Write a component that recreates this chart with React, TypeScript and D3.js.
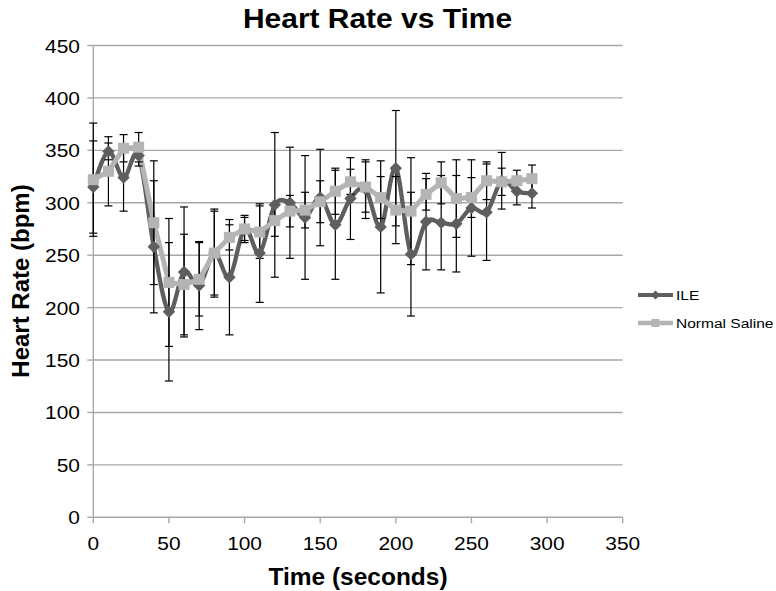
import React from 'react';
import * as d3 from 'd3';

const times = [0, 10, 20, 30, 40, 50, 60, 70, 80, 90, 100, 110, 120, 130, 140, 150, 160, 170, 180, 190, 200, 210, 220, 230, 240, 250, 260, 270, 280, 290];
const ileMean = [315, 349, 324, 345, 258, 196, 234, 221, 252, 229, 275, 252, 298, 300, 286, 305, 279, 304, 313, 277, 333, 251, 282, 281, 280, 295, 291, 321, 311, 309];
const ileErr = [44, 8, 32, 10, 63, 66, 62, 42, 42, 55, 11, 47, 69, 53, 59, 46, 52, 39, 28, 63, 55, 59, 46, 45, 46, 46, 46, 27, 13, 14];
const salineMean = [322, 330, 352, 353, 281, 224, 222, 227, 252, 267, 275, 272, 283, 292, 293, 301, 311, 320, 315, 305, 293, 292, 308, 319, 304, 305, 321, 320, 321, 323];
const salineErr = [54, 33, 13, 14, 59, 61, 48, 35, 40, 12, 13, 25, 15, 15, 17, 20, 22, 12, 24, 20, 32, 51, 15, 20, 37, 19, 18, 13, 10, 13];
const xTicks = [0, 50, 100, 150, 200, 250, 300, 350];
const yTicks = [0, 50, 100, 150, 200, 250, 300, 350, 400, 450];

const FONT = 'Liberation Sans, Arial, Helvetica, sans-serif';
const ILE_COLOR = '#5e5e5e';
const SAL_COLOR = '#b4b4b4';
const GRID = '#a8a8a8';

export default function App() {
  const x = d3.scaleLinear().domain([0, 350]).range([93.3, 622.7]);
  const y = d3.scaleLinear().domain([0, 450]).range([517.3, 45.5]);

  const ileLine = d3
    .line<number>()
    .x((_, i) => x(times[i]))
    .y((d) => y(d))
    .curve(d3.curveCardinal.tension(0));
  const salLine = d3
    .line<number>()
    .x((_, i) => x(times[i]))
    .y((d) => y(d))
    .curve(d3.curveLinear);

  const errBars = (means: number[], errs: number[], key: string) =>
    means.map((m, i) => {
      const cx = x(times[i]);
      const y1 = y(m + errs[i]);
      const y2 = y(m - errs[i]);
      return (
        <g key={key + i} stroke="#000" strokeWidth={1.2}>
          <line x1={cx} x2={cx} y1={y1} y2={y2} />
          <line x1={cx - 4} x2={cx + 4} y1={y1} y2={y1} />
          <line x1={cx - 4} x2={cx + 4} y1={y2} y2={y2} />
        </g>
      );
    });

  const diamond = (r: number) => `M0,${-r}L${r},0L0,${r}L${-r},0Z`;

  return (
    <svg width={776} height={591} style={{ position: 'absolute', left: 0, top: 0, background: '#fff' }}>
      <rect x={0} y={0} width={776} height={591} fill="#fff" />
      {/* gridlines */}
      {yTicks.map((t) => (
        <line key={'g' + t} x1={x(0)} x2={x(350)} y1={y(t)} y2={y(t)} stroke={GRID} strokeWidth={1.4} />
      ))}
      {/* y axis */}
      <line x1={x(0)} x2={x(0)} y1={y(0)} y2={y(450)} stroke={GRID} strokeWidth={1.4} />
      {yTicks.map((t) => (
        <line key={'yt' + t} x1={x(0) - 6} x2={x(0)} y1={y(t)} y2={y(t)} stroke={GRID} strokeWidth={1.4} />
      ))}
      {xTicks.map((t) => (
        <line key={'xt' + t} x1={x(t)} x2={x(t)} y1={y(0)} y2={y(0) + 6} stroke={GRID} strokeWidth={1.4} />
      ))}
      {/* tick labels */}
      {yTicks.map((t) => (
        <text key={'yl' + t} transform={`translate(80,${y(t) + 7}) scale(1.1,1)`} textAnchor="end" fontFamily={FONT} fontSize={19} fill="#000">
          {t}
        </text>
      ))}
      {xTicks.map((t) => (
        <text key={'xl' + t} transform={`translate(${x(t)},550) scale(1.1,1)`} textAnchor="middle" fontFamily={FONT} fontSize={19} fill="#000">
          {t}
        </text>
      ))}
      {/* titles */}
      <text transform="translate(377.5,27.5) scale(1.07,1)" textAnchor="middle" fontFamily={FONT} fontSize={28} fontWeight="bold">
        Heart Rate vs Time
      </text>
      <text transform="translate(358,585) scale(1.02,1)" textAnchor="middle" fontFamily={FONT} fontSize={24} fontWeight="bold">
        Time (seconds)
      </text>
      <text transform="translate(29,281) rotate(-90)" textAnchor="middle" fontFamily={FONT} fontSize={24} fontWeight="bold">
        Heart Rate (bpm)
      </text>
      {/* series lines */}
      <path d={ileLine(ileMean) || ''} fill="none" stroke={ILE_COLOR} strokeWidth={4.3} strokeLinejoin="round" />
      <path d={salLine(salineMean) || ''} fill="none" stroke={SAL_COLOR} strokeWidth={5} strokeLinejoin="round" />
      {/* error bars */}
      {errBars(ileMean, ileErr, 'ie')}
      {errBars(salineMean, salineErr, 'se')}
      {/* markers */}
      {ileMean.map((m, i) => (
        <path key={'im' + i} d={diamond(6.2)} transform={`translate(${x(times[i])},${y(m)})`} fill={ILE_COLOR} />
      ))}
      {salineMean.map((m, i) => (
        <rect key={'sm' + i} x={x(times[i]) - 5.5} y={y(m) - 5.5} width={11} height={11} fill={SAL_COLOR} />
      ))}
      {/* legend */}
      <line x1={638} x2={673} y1={295} y2={295} stroke={ILE_COLOR} strokeWidth={4} />
      <path d={diamond(4.5)} transform="translate(655.5,295)" fill={ILE_COLOR} />
      <text transform="translate(676,300) scale(1.15,1)" fontFamily={FONT} fontSize={13.5} fill="#000">
        ILE
      </text>
      <line x1={638} x2={673} y1={323} y2={323} stroke={SAL_COLOR} strokeWidth={4.5} />
      <rect x={651.5} y={319} width={8} height={8} fill={SAL_COLOR} />
      <text transform="translate(676,328) scale(1.15,1)" fontFamily={FONT} fontSize={13.5} fill="#000">
        Normal Saline
      </text>
    </svg>
  );
}
